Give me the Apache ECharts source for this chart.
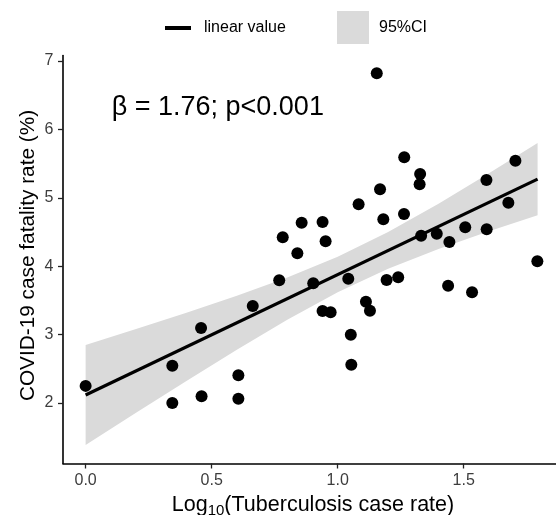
<!DOCTYPE html>
<html><head><meta charset="utf-8">
<script src="https://cdn.jsdelivr.net/npm/echarts@6/dist/echarts.min.js"></script>
<style>html,body{margin:0;padding:0;background:#fff}#c{width:556px;height:515px}</style>
</head><body><div id="c"></div>
<script>
// Observed points: log10 TB case rate vs COVID-19 case fatality rate (%)
const tbRate = [0, 0.344, 0.344, 0.458, 0.46, 0.606, 0.606, 0.663, 0.768, 0.84, 0.782, 0.857, 0.94, 0.952, 0.903, 0.94, 0.972, 1.042, 1.052, 1.054, 1.083, 1.112, 1.128, 1.155, 1.168, 1.181, 1.194, 1.24, 1.264, 1.263, 1.327, 1.325, 1.331, 1.393, 1.443, 1.438, 1.506, 1.533, 1.59, 1.591, 1.677, 1.705, 1.792];
const cfr = [2.25, 2.545, 2.0, 3.096, 2.098, 2.405, 2.063, 3.418, 3.794, 4.189, 4.423, 4.636, 4.646, 4.364, 3.75, 3.345, 3.326, 3.817, 2.999, 2.56, 4.905, 3.481, 3.349, 6.82, 5.124, 4.686, 3.798, 3.838, 5.592, 4.763, 5.348, 5.197, 4.446, 4.475, 4.354, 3.715, 4.569, 3.618, 5.26, 4.54, 4.928, 5.542, 4.072];
// Fitted linear value (end points)
const fitX = [0, 1.793];
const fitY = [2.117, 5.274];
// 95% CI band
const ciX = [0, 0.2, 0.4, 0.6, 0.8, 1.0, 1.2, 1.4, 1.6, 1.793];
const ciLow = [1.387, 1.857, 2.322, 2.780, 3.218, 3.619, 3.961, 4.251, 4.511, 4.746];
const ciHigh = [2.847, 3.081, 3.320, 3.568, 3.834, 4.137, 4.499, 4.913, 5.359, 5.802];
// Tick labels
const xTicks = [0, 0.5, 1.0, 1.5];
const yTicks = [2, 3, 4, 5, 6, 7];

const FONT = '"Liberation Sans", Arial, sans-serif';
const chart = echarts.init(document.getElementById('c'), null, {renderer: 'canvas'});

const bandData = ciX.map((x, i) => [x, ciLow[i], ciHigh[i]]);

chart.setOption({
  animation: false,
  backgroundColor: '#fff',
  textStyle: {fontFamily: FONT},
  grid: {left: 63, right: 0, top: 55.5, bottom: 51.5, outerBoundsMode: 'none', containLabel: false},
  legend: [
    {
      data: [{name: 'linear value', icon: 'rect'}],
      left: 165, top: 20, padding: 0,
      itemWidth: 26, itemHeight: 4,
      selectedMode: false,
      textStyle: {fontSize: 16, color: '#000', fontFamily: FONT, padding: [0, 0, 0, 8]}
    },
    {
      data: [{name: '95%CI', icon: 'rect'}],
      left: 337, top: 11, padding: 0,
      itemWidth: 32, itemHeight: 33,
      selectedMode: false,
      textStyle: {fontSize: 16, color: '#000', fontFamily: FONT, padding: [0, 0, 0, 5]}
    }
  ],
  xAxis: {
    type: 'value', min: -0.0897, max: 1.866,
    name: '{a|Log}{s|10}{a|(Tuberculosis case rate)}',
    nameLocation: 'middle', nameGap: 29, nameMoveOverlap: false,
    nameTextStyle: {
      padding: [0, 0, 0, 7],
      rich: {
        a: {fontSize: 21.5, color: '#000', fontFamily: FONT, lineHeight: 26},
        s: {fontSize: 15, color: '#000', fontFamily: FONT, lineHeight: 16, verticalAlign: 'bottom'}
      }
    },
    axisLine: {onZero: false, lineStyle: {color: '#000', width: 1.6}},
    axisTick: {customValues: xTicks, length: 5, lineStyle: {color: '#222', width: 1.3}},
    axisLabel: {customValues: xTicks, formatter: v => v.toFixed(1), color: '#3d3d3d', fontSize: 16, margin: 9, fontFamily: FONT},
    splitLine: {show: false}
  },
  yAxis: {
    type: 'value', min: 1.115, max: 7.081,
    name: 'COVID-19 case fatality rate (%)',
    nameLocation: 'middle', nameGap: 24, nameMoveOverlap: false,
    nameTextStyle: {fontSize: 20.8, color: '#000', fontFamily: FONT, padding: [0, 0, 0, 8]},
    axisLine: {onZero: false, lineStyle: {color: '#000', width: 1.6}},
    axisTick: {customValues: yTicks, length: 5, lineStyle: {color: '#222', width: 1.3}},
    axisLabel: {customValues: yTicks, formatter: v => String(v), color: '#3d3d3d', fontSize: 16, margin: 9.5, fontFamily: FONT},
    splitLine: {show: false}
  },
  graphic: [{
    type: 'text', x: 111.7, y: 108, z: 10,
    style: {text: 'β = 1.76; p<0.001', font: '27px ' + FONT, fill: '#000', align: 'left', verticalAlign: 'middle'}
  }],
  series: [
    {
      name: '95%CI', type: 'custom', z: 1,
      itemStyle: {color: '#dadada'},
      data: bandData,
      encode: {x: 0, y: [1, 2]},
      clip: true,
      renderItem: function (params, api) {
        if (params.dataIndex !== 0) return null;
        const pts = [];
        for (let i = 0; i < bandData.length; i++) pts.push(api.coord([bandData[i][0], bandData[i][2]]));
        for (let i = bandData.length - 1; i >= 0; i--) pts.push(api.coord([bandData[i][0], bandData[i][1]]));
        return {type: 'polygon', shape: {points: pts}, style: {fill: '#dadada', stroke: null}};
      }
    },
    {
      name: 'linear value', type: 'line', z: 2,
      data: fitX.map((x, i) => [x, fitY[i]]),
      symbol: 'none',
      itemStyle: {color: '#000'},
      lineStyle: {color: '#000', width: 3.2}
    },
    {
      name: 'points', type: 'scatter', z: 3,
      data: tbRate.map((x, i) => [x, cfr[i]]),
      symbol: 'circle', symbolSize: 12,
      itemStyle: {color: '#000', opacity: 1}
    }
  ]
});
</script>
</body></html>
